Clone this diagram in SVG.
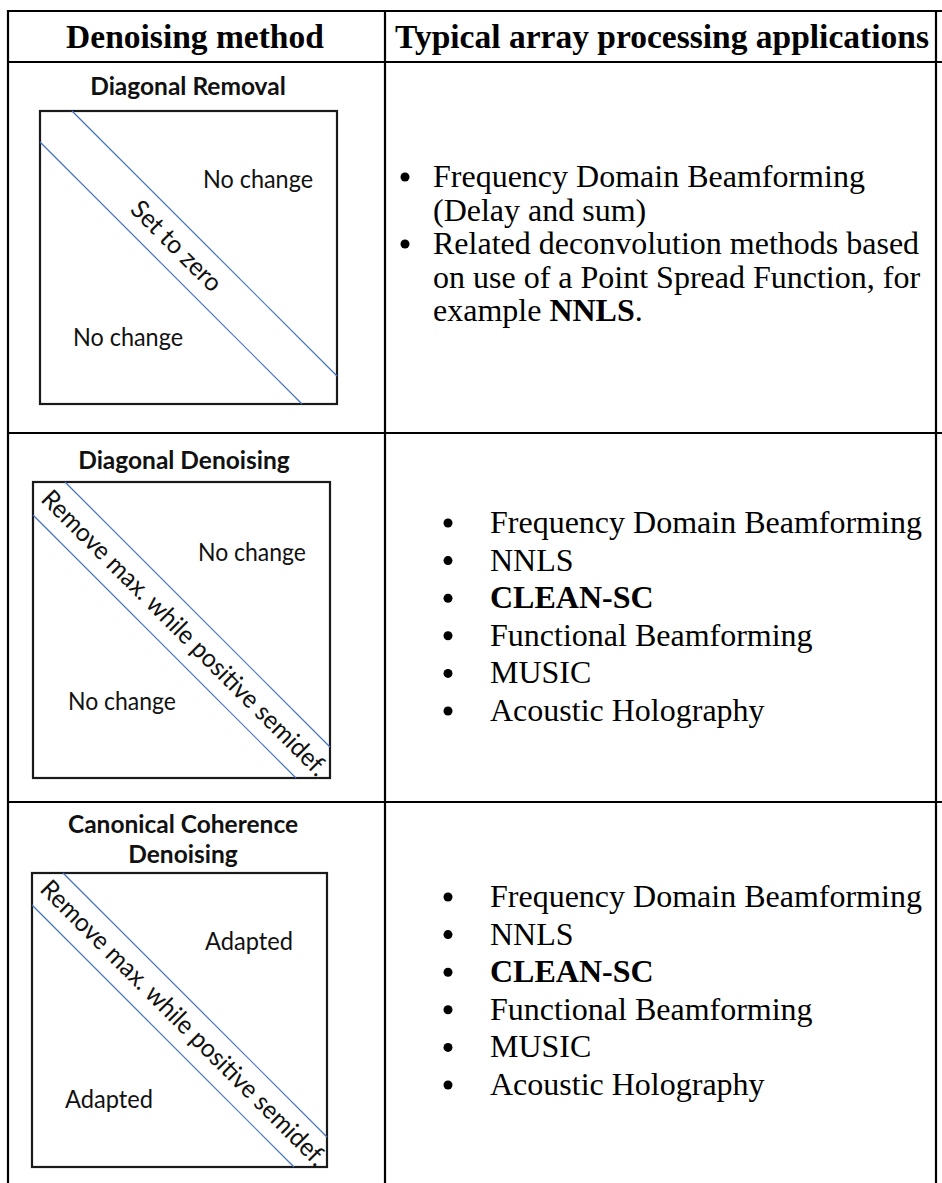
<svg xmlns="http://www.w3.org/2000/svg" width="942" height="1183" viewBox="0 0 942 1183">
  <style>
    .grid { stroke: #000; stroke-width: 2.2; fill: none; }
    .head { font-family: "Liberation Serif", "Times New Roman", serif; font-weight: bold; font-size: 33.5px; fill: #000; text-anchor: middle; }
    .body { font-family: "Liberation Serif", "Times New Roman", serif; font-size: 32px; fill: #000; }
    .bold { font-weight: bold; }
    .title { font-family: Lato, "Open Sans", sans-serif; font-weight: bold; font-size: 24.5px; fill: #111; text-anchor: middle; }
    .lbl { font-family: Lato, "Open Sans", sans-serif; font-size: 25.5px; fill: #111; }
    .box { fill: #fff; stroke: #1a1a1a; stroke-width: 2.2; }
    .band { stroke: #4472c4; stroke-width: 1.2; fill: none; }
  </style>

  <rect width="942" height="1183" fill="#fff"/>

  <!-- table grid -->
  <g id="table">
    <line class="grid" x1="7" y1="11" x2="942" y2="11"/>
    <line class="grid" x1="7" y1="62" x2="942" y2="62"/>
    <line class="grid" x1="7" y1="433" x2="942" y2="433"/>
    <line class="grid" x1="7" y1="802" x2="942" y2="802"/>
    <line class="grid" x1="8" y1="10" x2="8" y2="1183"/>
    <line class="grid" x1="385" y1="10" x2="385" y2="1183"/>
    <line class="grid" x1="936" y1="10" x2="936" y2="1183"/>
  </g>

  <!-- column headings -->
  <g id="headings">
    <text class="head" x="195" y="48">Denoising method</text>
    <text class="head" x="662" y="48">Typical array processing applications</text>
  </g>

  <!-- method 1: diagonal removal -->
  <g id="diagonal-removal">
    <text class="title" x="188" y="95">Diagonal Removal</text>
    <rect class="box" x="40" y="111" width="297" height="293"/>
    <line class="band" x1="72" y1="111" x2="337" y2="376"/>
    <line class="band" x1="40" y1="142" x2="302" y2="404"/>
    <text class="lbl" x="203" y="188" textLength="110" lengthAdjust="spacingAndGlyphs">No change</text>
    <text class="lbl" x="73" y="346" textLength="110" lengthAdjust="spacingAndGlyphs">No change</text>
    <text class="lbl" text-anchor="middle" transform="translate(176,246.5) rotate(45)" y="8" textLength="117" lengthAdjust="spacingAndGlyphs">Set to zero</text>
  </g>

  <!-- method 2: diagonal denoising -->
  <g id="diagonal-denoising">
    <text class="title" x="184" y="469">Diagonal Denoising</text>
    <rect class="box" x="33" y="482" width="297" height="296"/>
    <line class="band" x1="65" y1="482" x2="330" y2="747"/>
    <line class="band" x1="33" y1="515" x2="296" y2="778"/>
    <text class="lbl" x="198" y="561" textLength="108" lengthAdjust="spacingAndGlyphs">No change</text>
    <text class="lbl" x="68" y="710" textLength="108" lengthAdjust="spacingAndGlyphs">No change</text>
    <text class="lbl" text-anchor="middle" transform="translate(184,633.5) rotate(45)" y="8" textLength="392" lengthAdjust="spacingAndGlyphs">Remove max. while positive semidef.</text>
  </g>

  <!-- method 3: canonical coherence denoising -->
  <g id="canonical-coherence">
    <text class="title" x="183" y="833">Canonical Coherence</text>
    <text class="title" x="183" y="863">Denoising</text>
    <rect class="box" x="32" y="873" width="295" height="294"/>
    <line class="band" x1="63" y1="873" x2="327" y2="1137"/>
    <line class="band" x1="32" y1="905" x2="294" y2="1167"/>
    <text class="lbl" x="205" y="950" textLength="88" lengthAdjust="spacingAndGlyphs">Adapted</text>
    <text class="lbl" x="65" y="1108" textLength="88" lengthAdjust="spacingAndGlyphs">Adapted</text>
    <text class="lbl" text-anchor="middle" transform="translate(183,1023.5) rotate(45)" y="8" textLength="392" lengthAdjust="spacingAndGlyphs">Remove max. while positive semidef.</text>
  </g>

  <!-- applications, row 1 -->
  <g id="apps-1">
    <circle cx="405" cy="177" r="4.5"/>
    <circle cx="405" cy="244" r="4.5"/>
    <text class="body" x="433" y="187">Frequency Domain Beamforming</text>
    <text class="body" x="433" y="220.5">(Delay and sum)</text>
    <text class="body" x="433" y="254">Related deconvolution methods based</text>
    <text class="body" x="433" y="287.5">on use of a Point Spread Function, for</text>
    <text class="body" x="433" y="321">example <tspan class="bold">NNLS</tspan>.</text>
  </g>

  <!-- applications, row 2 -->
  <g id="apps-2">
    <circle cx="448" cy="523" r="4.5"/>
    <circle cx="448" cy="560.6" r="4.5"/>
    <circle cx="448" cy="598.2" r="4.5"/>
    <circle cx="448" cy="635.8" r="4.5"/>
    <circle cx="448" cy="673.4" r="4.5"/>
    <circle cx="448" cy="711" r="4.5"/>
    <text class="body" x="490" y="533">Frequency Domain Beamforming</text>
    <text class="body" x="490" y="570.6">NNLS</text>
    <text class="body bold" x="490" y="608.2">CLEAN-SC</text>
    <text class="body" x="490" y="645.8">Functional Beamforming</text>
    <text class="body" x="490" y="683.4">MUSIC</text>
    <text class="body" x="490" y="721">Acoustic Holography</text>
  </g>

  <!-- applications, row 3 -->
  <g id="apps-3">
    <circle cx="448" cy="897" r="4.5"/>
    <circle cx="448" cy="934.6" r="4.5"/>
    <circle cx="448" cy="972.2" r="4.5"/>
    <circle cx="448" cy="1009.8" r="4.5"/>
    <circle cx="448" cy="1047.4" r="4.5"/>
    <circle cx="448" cy="1085" r="4.5"/>
    <text class="body" x="490" y="907">Frequency Domain Beamforming</text>
    <text class="body" x="490" y="944.6">NNLS</text>
    <text class="body bold" x="490" y="982.2">CLEAN-SC</text>
    <text class="body" x="490" y="1019.8">Functional Beamforming</text>
    <text class="body" x="490" y="1057.4">MUSIC</text>
    <text class="body" x="490" y="1095">Acoustic Holography</text>
  </g>
</svg>
